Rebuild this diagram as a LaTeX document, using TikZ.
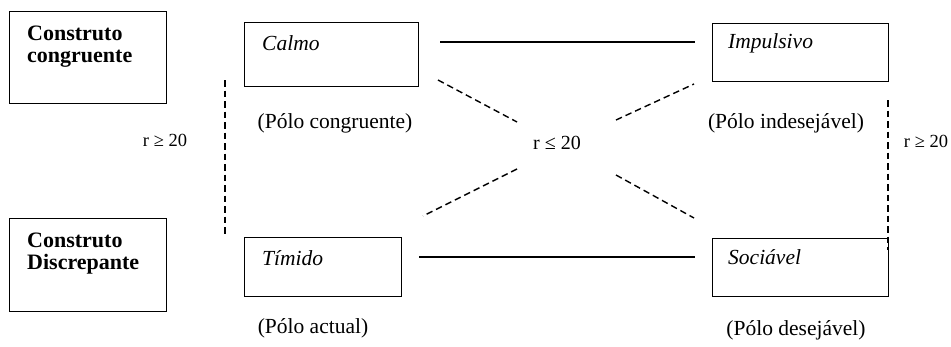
\documentclass[tikz,border=0pt]{standalone}
\usepackage{fontspec}
\setmainfont{Liberation Serif}
\begin{document}
\begin{tikzpicture}[x=1pt,y=-1pt,
  box/.style={draw, line width=1.3pt, inner sep=0pt, anchor=north west},
  word/.style={font=\fontsize{21.5}{24}\selectfont\itshape, anchor=base west, inner sep=0pt},
  head/.style={font=\fontsize{22}{22}\selectfont\bfseries, anchor=north west, align=left, inner sep=0pt},
  pole/.style={font=\fontsize{21.5}{24}\selectfont, inner sep=0pt},
  rlab/.style={font=\fontsize{18.5}{20}\selectfont, inner sep=0pt},
  solid link/.style={line width=1.3pt},
  dash link/.style={line width=1.4pt, dash pattern=on 6.5pt off 4pt}]
\useasboundingbox (0,0) rectangle (951,346);
% left construct boxes
\node[box, minimum width=157pt, minimum height=92pt] (cc) at (9,11) {};
\node[head] (cctext) at (27,26) {Construto\\congruente};
\node[box, minimum width=157pt, minimum height=93pt] (cd) at (9,218) {};
\node[head] (cdtext) at (27,233) {Construto\\Discrepante};
% pole boxes
\node[box, minimum width=174pt, minimum height=64pt] (calmo) at (244,22) {};
\node[word] (calmotext) at (262,50) {Calmo};
\node[box, minimum width=157pt, minimum height=59pt] (timido) at (244,237) {};
\node[word] (timidotext) at (262,265) {Tímido};
\node[box, minimum width=176pt, minimum height=58pt] (impulsivo) at (712,23) {};
\node[word] (impulsivotext) at (728,48) {Impulsivo};
\node[box, minimum width=176pt, minimum height=58pt] (sociavel) at (712,238) {};
\node[word] (sociaveltext) at (728,264) {Sociável};
% pole labels
\node[pole] (pcong) at (335,123) {(Pólo congruente)};
\node[pole] (pact) at (313,328) {(Pólo actual)};
\node[pole] (pindes) at (786,123) {(Pólo indesejável)};
\node[pole] (pdes) at (796,330) {(Pólo desejável)};
% r labels
\node[rlab] (rleft) at (165,140) {r ≥ 20};
\node[rlab] (rright) at (926,141) {r ≥ 20};
\node[font=\fontsize{20}{22}\selectfont, inner sep=0pt] (rmid) at (557,143) {r ≤ 20};
% connector end points
\coordinate (t1) at (440,42);  \coordinate (t2) at (695,42);
\coordinate (b1) at (419,257); \coordinate (b2) at (695,257);
\coordinate (ul1) at (438,80);  \coordinate (ul2) at (517,122);
\coordinate (ur1) at (616,120); \coordinate (ur2) at (694,84);
\coordinate (ll1) at (517,169); \coordinate (ll2) at (423,216);
\coordinate (lr1) at (616,175); \coordinate (lr2) at (694,218);
\coordinate (vl1) at (225,80);  \coordinate (vl2) at (225,237);
\coordinate (vr1) at (888,100); \coordinate (vr2) at (888,250);
% connectors
\draw[solid link] (t1) -- (t2);
\draw[solid link] (b1) -- (b2);
\draw[dash link] (ul1) -- (ul2);
\draw[dash link] (ur1) -- (ur2);
\draw[dash link] (ll1) -- (ll2);
\draw[dash link] (lr1) -- (lr2);
\draw[dash link] (vl1) -- (vl2);
\draw[dash link] (vr1) -- (vr2);
\end{tikzpicture}
\end{document}
